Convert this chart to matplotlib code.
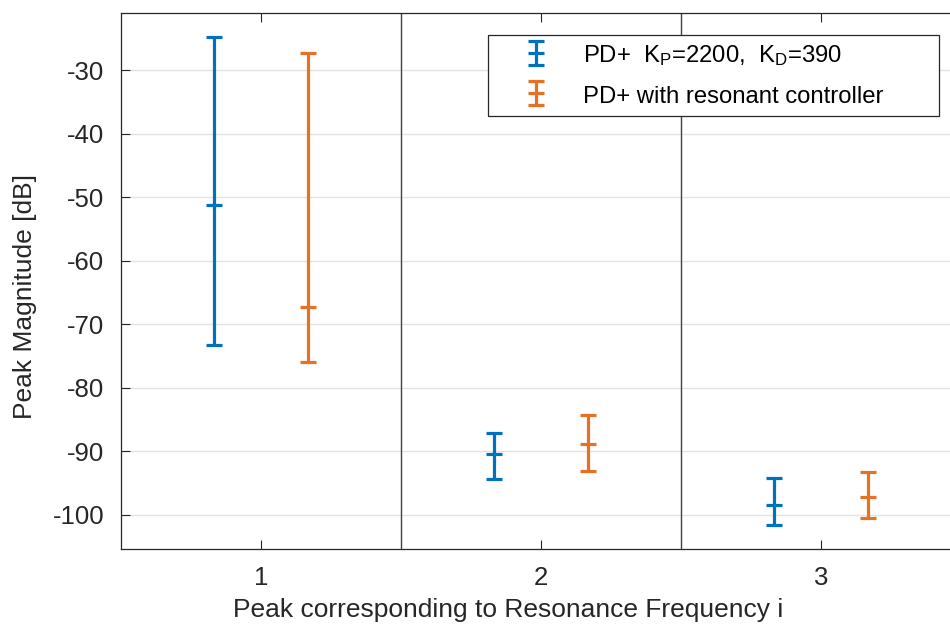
import numpy as np
import matplotlib
matplotlib.use('Agg')
import matplotlib.pyplot as plt
from matplotlib.patches import Rectangle
from matplotlib.transforms import IdentityTransform

plt.rcParams['font.family'] = ['Liberation Sans', 'DejaVu Sans']
plt.rcParams['mathtext.fontset'] = 'custom'
plt.rcParams['mathtext.rm'] = 'Liberation Sans'
plt.rcParams['mathtext.it'] = 'Liberation Sans'
plt.rcParams['axes.unicode_minus'] = False

peaks = np.array([1, 2, 3])
offset = 1 / 6

# PD+ (blue): mean, upper, lower
pd_mid = np.array([-51.2, -90.4, -98.4])
pd_top = np.array([-24.8, -87.1, -94.2])
pd_bot = np.array([-73.3, -94.3, -101.6])

# PD+ with resonant controller (orange)
rc_mid = np.array([-67.3, -88.9, -97.2])
rc_top = np.array([-27.3, -84.3, -93.3])
rc_bot = np.array([-75.9, -93.1, -100.5])

blue = '#0072BD'
orange = '#E57127'

fig = plt.figure(figsize=(9.5, 6.25), dpi=100)
ax = fig.add_axes([0.1274, 0.1216, 0.8842, 0.8576])

common = dict(linestyle='none', marker='_', markersize=11.5, markeredgewidth=2.3,
              elinewidth=2.3, capsize=5.8, capthick=2.3)
ax.errorbar(peaks - offset, pd_mid, yerr=[pd_mid - pd_bot, pd_top - pd_mid],
            color=blue, label='PD+  K$_P$=2200,  K$_D$=390', **common)
ax.errorbar(peaks + offset, rc_mid, yerr=[rc_mid - rc_bot, rc_top - rc_mid],
            color=orange, label='PD+ with resonant controller', **common)

for xv in [1.5, 2.5]:
    ax.axvline(xv, color='#404040', lw=1.0, zorder=1)

ax.set_xlim(0.5, 3.5)
ax.set_ylim(-105.4, -21)
ax.set_xticks(peaks)
ax.set_yticks(np.arange(-100, -29, 10))
ax.yaxis.grid(True, color='#e3e3e3', lw=1.0)
ax.set_axisbelow(True)
ax.tick_params(direction='in', length=6.5, width=0.8, colors='#262626',
               labelsize=18.5, top=True, right=True, pad=12)
for s in ax.spines.values():
    s.set_color('#262626')
    s.set_linewidth(0.9)

ax.set_xlabel('Peak corresponding to Resonance Frequency i', fontsize=19, color='#262626')
ax.set_ylabel('Peak Magnitude [dB]', fontsize=19, color='#262626', labelpad=11)
ax.xaxis.set_label_coords(0.461, -0.092, transform=ax.transAxes)
ax.xaxis.label.set_va('top')
ax.yaxis.label.set_position((0, 0.471))

# legend with extra room on the right (frame drawn separately)
extra = 47
leg = ax.legend(loc='upper right', bbox_to_anchor=(0.974 - extra / 840, 0.959), borderaxespad=0,
                fontsize=17.2, frameon=False,
                handlelength=3.35, handleheight=1.0, handletextpad=0.3,
                borderpad=0.35, labelspacing=0.65)
fig.canvas.draw()
bb = leg.get_window_extent(fig.canvas.get_renderer())
ax.add_patch(Rectangle((bb.x0, bb.y0), bb.width + extra, bb.height, transform=IdentityTransform(),
                       facecolor='white', edgecolor='#262626', lw=0.9, zorder=4.9, clip_on=False))

fig.savefig('out.png', dpi=100)
